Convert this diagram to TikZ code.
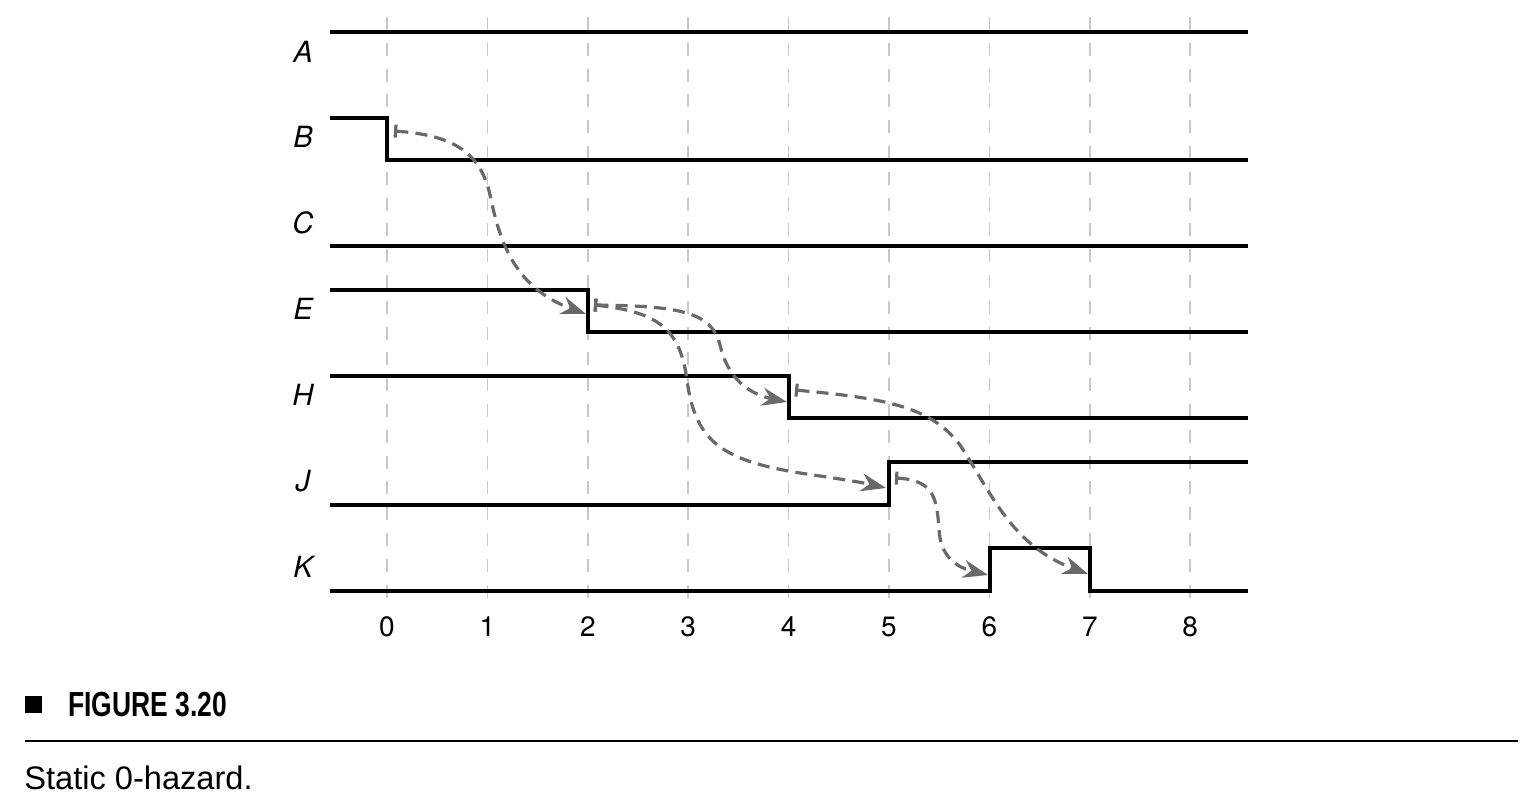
\documentclass[tikz,border=0pt]{standalone}
\usepackage{fontspec}
\setmainfont{TeX Gyre Heros}
\newfontfamily\capfont{Liberation Sans}
\usetikzlibrary{arrows.meta}
\definecolor{sig}{RGB}{0,0,0}
\definecolor{gridc}{RGB}{200,200,200}
\definecolor{arrc}{RGB}{105,105,105}
\begin{document}
\begin{tikzpicture}[x=0.5pt,y=-0.5pt,
  signal/.style={draw=sig,line width=1.6pt,line join=miter},
  gridline/.style={draw=gridc,line width=0.8pt,dash pattern=on 6.5pt off 6.4pt},
  hazard/.style={draw=arrc,line width=1.6pt,dash pattern=on 6pt off 3.6pt,
     {Bar[width=6.5pt,line width=1.6pt]}-{Stealth[length=12.5pt,width=9pt,inset=4pt]}},
  siglabel/.style={font=\fontsize{14.6}{17}\selectfont\itshape,anchor=center},
  ticklabel/.style={font=\fontsize{14}{17}\selectfont,anchor=center}]
\useasboundingbox (0,0) rectangle (1530,812);
% grid
\foreach \k in {0,...,8}{
  \draw[gridline] ({387+100.4*\k},17) -- ({387+100.4*\k},605);
  \node[ticklabel] (t\k) at ({387+100.4*\k},627) {\k};
}
% signals
\draw[signal] (330,32) -- (1248,32);
\draw[signal] (330,118) -- (387,118) -- (387,160) -- (1248,160);
\draw[signal] (330,246) -- (1248,246);
\draw[signal] (330,290) -- (588,290) -- (588,332) -- (1248,332);
\draw[signal] (330,376) -- (789,376) -- (789,418) -- (1248,418);
\draw[signal] (330,505) -- (889,505) -- (889,462) -- (1248,462);
\draw[signal] (330,591) -- (990,591) -- (990,548) -- (1090,548) -- (1090,591) -- (1248,591);
% labels
\node[siglabel] (lA) at (303,52) {A};
\node[siglabel] (lB) at (303,137) {B};
\node[siglabel] (lC) at (303,223) {C};
\node[siglabel] (lE) at (303,309) {E};
\node[siglabel] (lH) at (303,395) {H};
\node[siglabel] (lJ) at (303,481) {J};
\node[siglabel] (lK) at (303,567) {K};
% hazard arrows
\coordinate (sB) at (394,131);
\coordinate (eE) at (586,314);
\coordinate (sE) at (594,305);
\coordinate (eH) at (787,402);
\coordinate (eJ) at (886,488);
\coordinate (sH) at (795,390);
\coordinate (eK7) at (1088,574);
\coordinate (sJ) at (895,478);
\coordinate (eK6) at (988,575);
\draw[hazard] (sB) .. controls (450,135) and (480,150) .. (490,195)
   .. controls (499,237) and (512,287) .. (eE);
\draw[hazard] (sE) .. controls (680,306) and (712,312) .. (720,345)
   .. controls (727,375) and (745,393) .. (eH);
\draw[hazard] (sE) .. controls (660,312) and (680,330) .. (687,380)
   .. controls (695,440) and (720,460) .. (800,473)
   .. controls (840,479) and (860,482) .. (eJ);
\draw[hazard] (sH) .. controls (880,398) and (930,405) .. (960,445)
   .. controls (990,490) and (1010,545) .. (eK7);
\draw[hazard] (sJ) .. controls (935,480) and (937,500) .. (939,530)
   .. controls (941,560) and (960,568) .. (eK6);
% caption
\fill[black] (25,696) rectangle (42,713) coordinate (sq);
\node[anchor=west,inner sep=0pt,font=\capfont\fontsize{17.4}{20}\selectfont\bfseries] (fig) at (68,705) {\scalebox{0.76}[1]{FIGURE 3.20}};
\draw[line width=1pt] (25,741) coordinate (r1) -- (1518,741) coordinate (r2);
\node[anchor=west,inner sep=0pt,font=\capfont\fontsize{16.3}{19}\selectfont] (cap) at (24,778) {Static 0-hazard.};
\end{tikzpicture}
\end{document}
